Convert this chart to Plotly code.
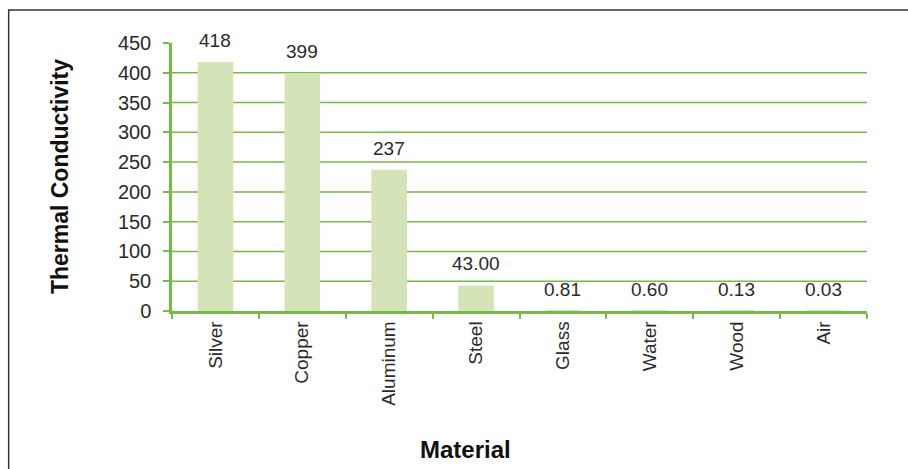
import plotly.graph_objects as go

materials = ["Silver", "Copper", "Aluminum", "Steel", "Glass", "Water", "Wood", "Air"]
conductivity = [418, 399, 237, 43.00, 0.81, 0.60, 0.13, 0.03]
value_labels = ["418", "399", "237", "43.00", "0.81", "0.60", "0.13", "0.03"]
y_ticks = [0, 50, 100, 150, 200, 250, 300, 350, 400, 450]
grid_values = [50, 100, 150, 200, 250, 300, 350, 400]

GREEN = "#72bb45"
BAR = "#d5e3b9"
FONT = "Liberation Sans, Arial, sans-serif"
TXT = "#2a2a2a"

fig = go.Figure()
fig.add_trace(go.Bar(
    x=materials, y=conductivity,
    marker=dict(color=BAR, line=dict(width=0)),
    width=0.41,
))

annotations = []
for m, v, lab in zip(materials, conductivity, value_labels):
    annotations.append(dict(x=m, y=v, xref="x", yref="y", text=lab, showarrow=False,
                            yanchor="bottom", yshift=9,
                            font=dict(family=FONT, size=19, color=TXT)))
annotations.append(dict(text="<b>Thermal Conductivity</b>", xref="paper", yref="paper",
                        x=-0.161, y=0.5, textangle=-90, showarrow=False,
                        xanchor="center", yanchor="middle",
                        font=dict(family=FONT, size=23, color="#111")))
annotations.append(dict(text="<b>Material</b>", xref="paper", yref="paper",
                        x=0.4224, y=-0.515, showarrow=False,
                        xanchor="center", yanchor="middle",
                        font=dict(family=FONT, size=24, color="#111")))

shapes = []
for g in grid_values:
    shapes.append(dict(type="line", xref="paper", yref="y", x0=0, x1=1, y0=g, y1=g,
                       line=dict(color=GREEN, width=1.5), layer="below"))
# outer chart border
shapes.append(dict(type="rect", xref="paper", yref="paper", x0=-0.235, x1=1.2, y0=-0.7, y1=1.123,
                   line=dict(color="#333", width=1.5), fillcolor="rgba(0,0,0,0)"))

fig.update_layout(
    width=908, height=469,
    margin=dict(l=172, r=41, t=43, b=158),
    paper_bgcolor="white", plot_bgcolor="white",
    showlegend=False,
    shapes=shapes,
    annotations=annotations,
    font=dict(family=FONT, color=TXT),
    xaxis=dict(
        type="category", showline=True, linecolor=GREEN, linewidth=2.5,
        ticks="outside", ticklen=5, tickcolor=GREEN, tickwidth=2, tickson="boundaries",
        tickangle=-90, tickfont=dict(size=19, family=FONT, color=TXT),
        showgrid=False,
    ),
    yaxis=dict(
        range=[0, 450], tickvals=y_ticks, showgrid=False, zeroline=False,
        showline=True, linecolor=GREEN, linewidth=2.5,
        ticks="outside", ticklen=6, tickcolor=GREEN, tickwidth=2,
        ticklabelstandoff=8,
        tickfont=dict(size=20, family=FONT, color=TXT),
    ),
    bargap=0.59,
)

fig.write_html("out.html")
